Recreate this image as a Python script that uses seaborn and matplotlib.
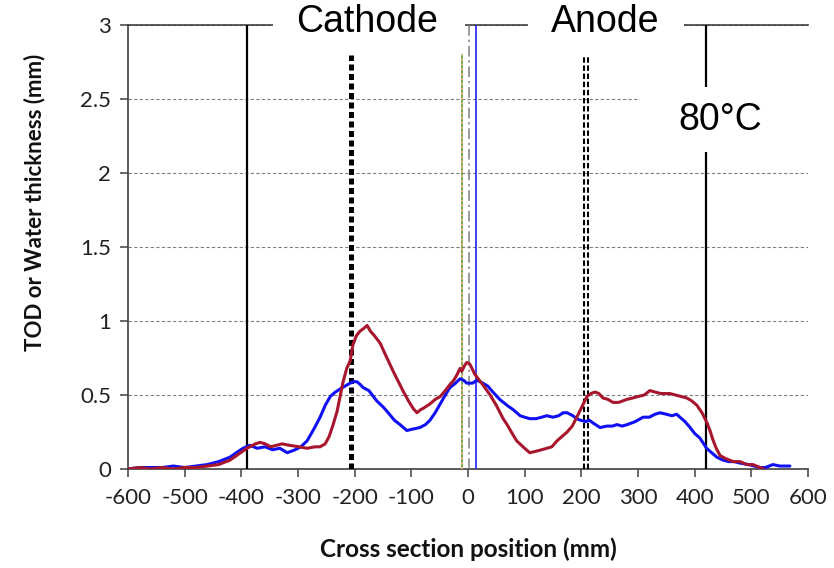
import numpy as np
import pandas as pd
import matplotlib
matplotlib.use("Agg")
import matplotlib.pyplot as plt
from matplotlib.patches import Rectangle
import seaborn as sns

# ---------------- data ----------------
red_x = [-600, -580, -560, -540, -520, -500, -480, -460, -440, -420, -405, -390, -375, -367, -358, -348,
         -338, -328, -315, -298, -284, -270, -261, -252, -245, -238, -231, -221, -214, -208, -203, -197,
         -191, -184, -178, -172, -165, -155, -143, -132, -115, -105, -97, -90, -84, -79, -67, -58, -49,
         -40, -32, -25, -19, -14, -11, -6, -2, 3, 7, 12, 16, 26, 39, 50, 62, 69, 78, 86, 97, 109, 120,
         130, 139, 148, 157, 166, 175, 184, 192, 201, 210, 217, 224, 231, 238, 247, 256, 266, 280, 291,
         300, 311, 321, 330, 340, 348, 356, 366, 376, 386, 395, 404, 413, 422, 427, 432, 438, 445, 455,
         468, 480, 492, 503, 515, 522]
red_y = [0.00, 0.01, 0.00, 0.01, 0.00, 0.01, 0.01, 0.02, 0.03, 0.06, 0.10, 0.14, 0.17, 0.18, 0.17, 0.15,
         0.16, 0.17, 0.16, 0.15, 0.14, 0.15, 0.15, 0.17, 0.22, 0.30, 0.39, 0.58, 0.68, 0.73, 0.84, 0.90,
         0.93, 0.95, 0.97, 0.93, 0.90, 0.85, 0.75, 0.66, 0.53, 0.46, 0.41, 0.38, 0.40, 0.41, 0.44, 0.47,
         0.49, 0.53, 0.57, 0.60, 0.64, 0.68, 0.66, 0.70, 0.72, 0.71, 0.68, 0.64, 0.62, 0.57, 0.50, 0.43,
         0.34, 0.30, 0.24, 0.19, 0.15, 0.11, 0.12, 0.13, 0.14, 0.15, 0.19, 0.22, 0.25, 0.29, 0.35, 0.42,
         0.49, 0.51, 0.52, 0.51, 0.48, 0.47, 0.45, 0.45, 0.47, 0.48, 0.49, 0.50, 0.53, 0.52, 0.51, 0.51,
         0.51, 0.50, 0.49, 0.48, 0.46, 0.43, 0.38, 0.31, 0.26, 0.20, 0.14, 0.09, 0.07, 0.05, 0.05, 0.03,
         0.03, 0.01, 0.00]

blue_x = [-600, -580, -560, -540, -520, -500, -480, -460, -440, -420, -405, -397, -385, -372, -358, -345,
          -332, -319, -305, -295, -284, -272, -261, -252, -243, -234, -226, -217, -208, -202, -196, -190,
          -185, -175, -161, -150, -143, -130, -120, -108, -97, -85, -75, -67, -58, -49, -40, -32, -22,
          -14, -8, -2, 8, 16, 26, 35, 44, 56, 69, 80, 92, 100, 109, 120, 130, 139, 150, 160, 168, 175,
          185, 192, 198, 208, 214, 221, 233, 245, 255, 263, 272, 281, 295, 309, 320, 330, 339, 350, 360,
          368, 374, 383, 392, 400, 409, 416, 421, 430, 439, 450, 460, 470, 480, 495, 505, 515, 525, 538,
          550, 563, 568]
blue_y = [0.00, 0.01, 0.01, 0.01, 0.02, 0.01, 0.02, 0.03, 0.05, 0.08, 0.12, 0.14, 0.16, 0.14, 0.15, 0.13,
          0.14, 0.11, 0.13, 0.15, 0.19, 0.27, 0.35, 0.43, 0.49, 0.52, 0.54, 0.56, 0.58, 0.59, 0.59, 0.57,
          0.55, 0.53, 0.46, 0.42, 0.39, 0.33, 0.30, 0.26, 0.27, 0.28, 0.30, 0.33, 0.38, 0.44, 0.50, 0.55,
          0.58, 0.61, 0.60, 0.58, 0.58, 0.60, 0.58, 0.56, 0.52, 0.47, 0.43, 0.40, 0.36, 0.35, 0.34, 0.34,
          0.35, 0.36, 0.35, 0.36, 0.38, 0.38, 0.36, 0.34, 0.33, 0.32, 0.33, 0.31, 0.28, 0.29, 0.29, 0.30,
          0.29, 0.30, 0.32, 0.35, 0.35, 0.37, 0.38, 0.37, 0.36, 0.37, 0.35, 0.32, 0.28, 0.24, 0.21, 0.17,
          0.14, 0.11, 0.08, 0.06, 0.05, 0.05, 0.04, 0.03, 0.02, 0.01, 0.01, 0.03, 0.02, 0.02, 0.02]

x_ticks = [-600, -500, -400, -300, -200, -100, 0, 100, 200, 300, 400, 500, 600]
y_ticks = [0, 0.5, 1, 1.5, 2, 2.5, 3]
y_tick_labels = ["0", "0.5", "1", "1.5", "2", "2.5", "3"]

region_labels = ["Cathode", "Anode", "80°C"]
region_label_x = [-178, 242, 446]
region_label_y = [3.02, 3.02, 2.36]

solid_marks = [-390, 420]          # solid black boundaries
cathode_mark = -206                # thick dashed
anode_marks = [205, 212]           # double dashed
green_mark = -11
center_mark = 1
blue_mark = 14

x_label = "Cross section position (mm)"
y_label = "TOD or Water thickness (mm)"

# ---------------- plot ----------------
sns.set_theme(style="white")
plt.rcParams["font.family"] = ["Lato", "DejaVu Sans"]

fig = plt.figure(figsize=(8.34, 5.68), dpi=100)
ax = fig.add_axes([128 / 834, 1 - 469 / 568, (808 - 128) / 834, (469 - 25) / 568])

df_red = pd.DataFrame({"x": red_x, "y": red_y})
df_blue = pd.DataFrame({"x": blue_x, "y": blue_y})
sns.lineplot(data=df_blue, x="x", y="y", ax=ax, color="#1010F5", lw=2.2, zorder=4, sort=False)
sns.lineplot(data=df_red, x="x", y="y", ax=ax, color="#A8162E", lw=2.2, zorder=5, sort=False)

# vertical marker lines
for xm in solid_marks:
    ax.plot([xm, xm], [0, 3], color="black", lw=1.6, zorder=3)
ax.plot([cathode_mark, cathode_mark], [0, 2.8], color="black", lw=3.6,
        linestyle=(0, (1.2, 0.7)), zorder=3)
for xm in anode_marks:
    ax.plot([xm, xm], [0, 2.8], color="black", lw=1.5, linestyle=(0, (2.6, 1.3)), zorder=3)
ax.plot([green_mark, green_mark], [0, 2.8], color="#70AD47", lw=1.4, zorder=3)
ax.plot([green_mark, green_mark], [0, 2.8], color="#F4B183", lw=1.4, linestyle=(0, (1, 1.5)), zorder=3)
ax.plot([center_mark, center_mark], [0, 3], color="#808080", lw=1.1,
        linestyle=(0, (7, 2.5, 1.5, 2.5)), zorder=3)
ax.plot([blue_mark, blue_mark], [0, 3], color="#2020F0", lw=1.2, zorder=3)

# white boxes behind labels
ax.add_patch(Rectangle((-344, 2.85), 339, 0.3, facecolor="white", edgecolor="none",
                       zorder=6, clip_on=False))
ax.add_patch(Rectangle((106, 2.85), 275, 0.3, facecolor="white", edgecolor="none",
                       zorder=6, clip_on=False))
ax.add_patch(Rectangle((304, 2.14), 310, 0.44, facecolor="white", edgecolor="none",
                       zorder=6, clip_on=False))
for t, xt, yt in zip(region_labels, region_label_x, region_label_y):
    ax.text(xt, yt, t, ha="center", va="center", fontsize=27,
            family=["Liberation Sans", "DejaVu Sans"], color="black", zorder=7)

ax.set_xlim(-600, 600)
ax.set_ylim(0, 3)
ax.set_xticks(x_ticks)
ax.set_xticklabels([str(v) for v in x_ticks])
ax.set_yticks(y_ticks)
ax.set_yticklabels(y_tick_labels)

ax.yaxis.grid(True, color="#808080", lw=0.8, linestyle=(0, (3, 2)))
ax.xaxis.grid(False)
ax.set_axisbelow(True)

for s in ["left", "bottom", "top"]:
    ax.spines[s].set_visible(True)
    ax.spines[s].set_color("#404040")
    ax.spines[s].set_linewidth(1.2)
ax.spines["right"].set_visible(False)

ax.tick_params(axis="both", which="major", direction="out", length=6, width=1.1,
               color="#404040", labelsize=16, labelcolor="#222222")
ax.tick_params(axis="x", pad=8, bottom=True)
ax.tick_params(axis="y", pad=6, left=True)

ax.set_xlabel(x_label, fontsize=17.5, fontweight="bold", color="#111111")
ax.set_ylabel(y_label, fontsize=16, fontweight="bold", color="#111111")
ax.xaxis.set_label_coords(0.5, -0.18)
ax.xaxis.label.set_va("center")
ax.yaxis.set_label_coords(-0.137, 0.60)
ax.yaxis.label.set_va("center")

fig.savefig("out.png", dpi=100)
